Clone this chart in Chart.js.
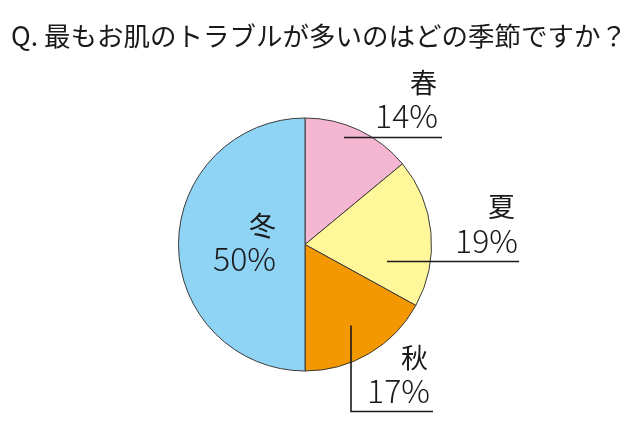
<!DOCTYPE html>
<html><head><meta charset="utf-8">
<script src="https://cdn.jsdelivr.net/npm/chart.js@4"></script>
<style>html,body{margin:0;padding:0;background:#fff}#wrap{width:640px;height:426px;position:relative}</style>
</head><body><div id="wrap"><canvas id="c" width="640" height="426"></canvas></div>
<script>
const titleText = "Q. 最もお肌のトラブルが多いのはどの季節ですか？";
const categories = ["春", "夏", "秋", "冬"];
const values = [14, 19, 17, 50];
const colors = ["#F5B6D2", "#FFF799", "#F39800", "#8FD3F5"];

const FONT = '"Noto Sans CJK JP", "Noto Sans", sans-serif';

// label layout relative to pie centre (pixel offsets), style only
const labelLayout = [
  {kx: 132, ky: -162, px: 133, py: -117, line: [[39,-107],[137,-107]]},
  {kx: 210, ky: -38,  px: 213, py: 8,    line: [[82,17],[214,17]]},
  {kx: 123, ky: 113,  px: 125, py: 158,  line: [[46,81],[46,167],[128,167]]},
  {kx: -29, ky: -19,  px: -29, py: 26,   line: null}
];

const labelPlugin = {
  id: 'pieLabels',
  afterDraw(chart) {
    const ctx = chart.ctx;
    const meta = chart.getDatasetMeta(0);
    const arc0 = meta.data[0];
    const cx = arc0.x, cy = arc0.y;
    ctx.save();
    // title
    ctx.fillStyle = '#1a1a1a';
    ctx.font = '400 26.5px ' + FONT;
    ctx.textAlign = 'left';
    ctx.textBaseline = 'middle';
    ctx.fillText(titleText, 11, 36);
    meta.data.forEach((arc, i) => {
      const L = labelLayout[i];
      if (L.line) {
        ctx.beginPath();
        ctx.strokeStyle = '#1a1a1a';
        ctx.lineWidth = 1.6;
        L.line.forEach((p, j) => {
          if (j === 0) ctx.moveTo(cx + p[0], cy + p[1]); else ctx.lineTo(cx + p[0], cy + p[1]);
        });
        ctx.stroke();
      }
      ctx.fillStyle = '#1a1a1a';
      ctx.textAlign = 'right';
      ctx.textBaseline = 'middle';
      ctx.font = '400 27px ' + FONT;
      ctx.fillText(categories[i], cx + L.kx, cy + L.ky);
      ctx.textBaseline = 'alphabetic';
      ctx.font = '300 32px ' + FONT;
      ctx.fillText(values[i] + '%', cx + L.px, cy + L.py);
    });
    ctx.restore();
  }
};

new Chart(document.getElementById('c'), {
  type: 'pie',
  data: {
    labels: categories,
    datasets: [{
      data: values,
      backgroundColor: colors,
      borderColor: '#3a3a3a',
      borderWidth: 1
    }]
  },
  options: {
    responsive: false,
    animation: false,
    devicePixelRatio: 1,
    layout: { padding: { top: 117, bottom: 54, left: 178, right: 208 } },
    plugins: { legend: { display: false }, tooltip: { enabled: false }, title: { display: false } }
  },
  plugins: [labelPlugin]
});
</script>
</body></html>
